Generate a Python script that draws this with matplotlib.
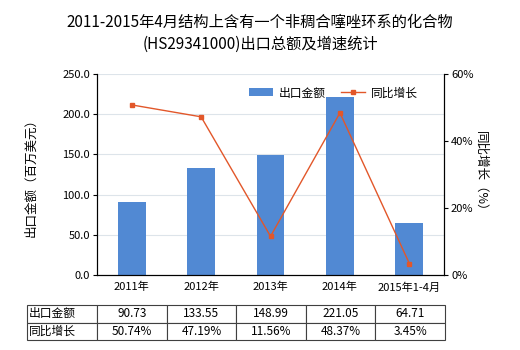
import matplotlib.pyplot as plt
import numpy as np

plt.rcParams['font.family'] = ['Noto Sans CJK SC', 'DejaVu Sans']

# 数据
years = ['2011年', '2012年', '2013年', '2014年', '2015年1-4月']
export_value = [90.73, 133.55, 148.99, 221.05, 64.71]
growth_rate = [50.74, 47.19, 11.56, 48.37, 3.45]
value_labels = ['90.73', '133.55', '148.99', '221.05', '64.71']
growth_labels = ['50.74%', '47.19%', '11.56%', '48.37%', '3.45%']

bar_color = '#5189d3'
line_color = '#e2572a'

fig = plt.figure(figsize=(5.2, 3.5), dpi=100)
ax = fig.add_axes([0.1865, 0.214, 0.6675, 0.575])
ax2 = ax.twinx()

x = np.arange(len(years))
ax.bar(x, export_value, width=0.4, color=bar_color, label='出口金额', zorder=2)
ax2.plot(x, growth_rate, color=line_color, lw=1, marker='s', markersize=3.5,
         label='同比增长', zorder=3)

ax.set_xlim(-0.5, len(years) - 0.5)
ax.set_ylim(0, 250)
ax.set_yticks(np.arange(0, 251, 50))
ax.set_yticklabels([f'{v:.1f}' for v in np.arange(0, 251, 50)], fontsize=8)
ax.set_xticks(x)
ax.set_xticklabels(years, fontsize=8)
ax.grid(axis='y', color='#dde4ea', lw=0.8, zorder=0)
ax.set_ylabel('出口金额（百万美元）', fontsize=9, labelpad=18)

ax2.set_ylim(0, 60)
ax2.set_yticks([0, 20, 40, 60])
ax2.set_yticklabels(['0%', '20%', '40%', '60%'], fontsize=8)
ax2.set_ylabel('同比增长（%）', fontsize=9, rotation=270, labelpad=10)

for a in (ax, ax2):
    a.spines['top'].set_visible(False)
    for s in ('left', 'right', 'bottom'):
        a.spines[s].set_color('black')
    a.tick_params(length=3, color='black', pad=2)
ax.tick_params(axis='x', length=0, pad=5)

# 图例
h1, l1 = ax.get_legend_handles_labels()
h2, l2 = ax2.get_legend_handles_labels()
ax2.legend(h1 + h2, l1 + l2, loc='upper right', bbox_to_anchor=(0.955, 0.99),
           ncol=2, frameon=False, fontsize=8.5, handlelength=2.0,
           columnspacing=1.3, handletextpad=0.5)

# 标题
fig.text(0.5, 0.935, '2011-2015年4月结构上含有一个非稠合噻唑环系的化合物',
         ha='center', va='center', fontsize=11)
fig.text(0.5, 0.872, '(HS29341000)出口总额及增速统计',
         ha='center', va='center', fontsize=11)

# 数据表
rows = [['出口金额'] + value_labels, ['同比增长'] + growth_labels]
widths = [70] + [69.6] * 5
tw = sum(widths)
tbl = ax.table(cellText=rows, colWidths=[w / tw for w in widths],
               cellLoc='center', bbox=[-0.2017, -0.323, 1.2046, 0.174])
tbl.auto_set_font_size(False)
for (r, c), cell in tbl.get_celld().items():
    cell.set_edgecolor('#404040')
    cell.set_linewidth(0.8)
    cell.set_text_props(fontsize=8.5)
    if c == 0:
        cell._loc = 'left'
        cell.PAD = 0.03
        cell.set_text_props(ha='left')

fig.savefig('out.png', dpi=100)
